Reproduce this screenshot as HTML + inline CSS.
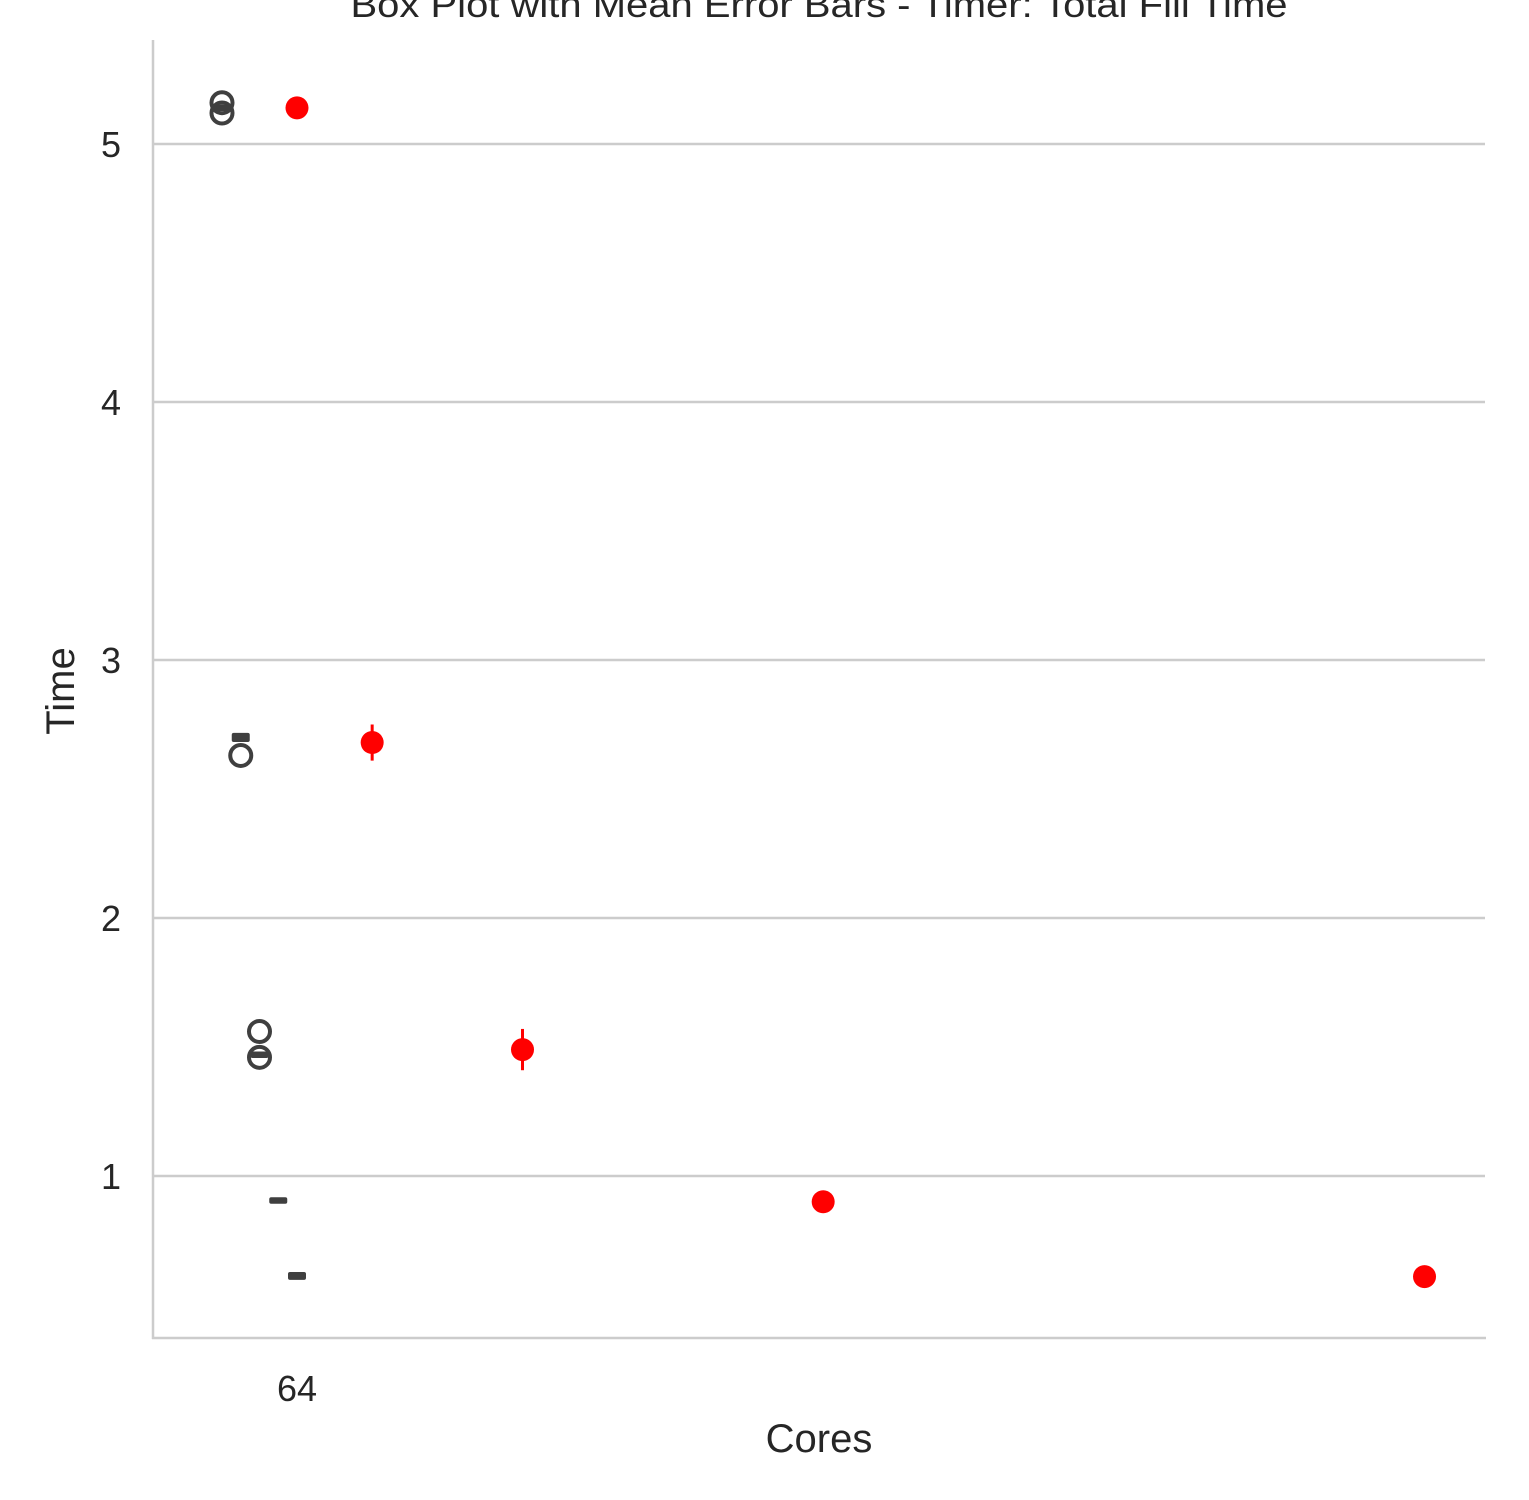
<!DOCTYPE html>
<html><head><meta charset="utf-8"><style>
body{margin:0;background:#fff;}
svg{display:block;font-family:"Liberation Sans",Arial,sans-serif;}
</style></head><body>
<svg id="chart" width="1529" height="1500" viewBox="0 0 1529 1500">
<text x="819" y="17" text-anchor="middle" font-size="36" textLength="937" lengthAdjust="spacingAndGlyphs" fill="#262626">Box Plot with Mean Error Bars - Timer: Total Fill Time</text>
<g id="grid"></g>
<g id="marks"></g>
<line x1="153" y1="40" x2="153" y2="1339" stroke="#cccccc" stroke-width="2.5"/>
<line x1="152" y1="1338" x2="1486" y2="1338" stroke="#cccccc" stroke-width="2.5"/>
<text x="819" y="1452" text-anchor="middle" font-size="40" fill="#262626">Cores</text>
<text transform="translate(74,691) rotate(-90)" text-anchor="middle" font-size="40" fill="#262626">Time</text>
</svg>
<script>
const yTicks=[1,2,3,4,5];
const xTickValues=[64];
const xTickLabels=["64"];
const coreValues=[64,128,256,512,1024];
const meanValues=[5.14,2.68,1.49,0.90,0.61];
const meanErrors=[0.01,0.07,0.08,0.01,0.01];
const boxPositions=[0,16,32,48,64];
const boxQ1=[5.135,2.69,1.465,0.90,0.605];
const boxQ3=[5.145,2.71,1.475,0.91,0.62];
const outliers=[[5.16,5.12],[2.63],[1.56,1.46],[],[]];

const NS="http://www.w3.org/2000/svg";
const xs=v=>297+(v-64)*1.1745;
const ys=v=>1176-(v-1)*258;
const grid=document.getElementById('grid'),marks=document.getElementById('marks');
function mk(tag,attrs,parent){const e=document.createElementNS(NS,tag);for(const k in attrs)e.setAttribute(k,attrs[k]);parent.appendChild(e);return e;}
yTicks.forEach(t=>{
  const l=mk('line',{x1:153,x2:1485,y1:ys(t),y2:ys(t),stroke:'#cccccc','stroke-width':2.5},grid);
  
  
  const tx=mk('text',{x:121,y:ys(t)+13,'text-anchor':'end','font-size':36,fill:'#262626'},grid);
  tx.textContent=t;
  
  
});
xTickValues.forEach((t,i)=>{
  const tx=mk('text',{x:xs(t),y:1401,'text-anchor':'middle','font-size':36,fill:'#262626'},grid);
  tx.textContent=xTickLabels[i];
  
  
});
boxPositions.forEach((p,i)=>{
  const cx=297+(p-64)*1.1719,w=18;
  const y1=ys(boxQ3[i]),y2=ys(boxQ1[i]);
  const b=mk('rect',{x:cx-w/2,y:y1-2,width:w,height:Math.max(y2-y1,1)+4,fill:'#3f3f3f',rx:2},marks);
  
  
  outliers[i].forEach(o=>{
    const c=mk('circle',{cx:cx,cy:ys(o),r:10.5,fill:'none',stroke:'#3f3f3f','stroke-width':4},marks);
    
    
  });
});
coreValues.forEach((v,i)=>{
  const cx=xs(v),cy=ys(meanValues[i]);
  const e=mk('line',{x1:cx,x2:cx,y1:ys(meanValues[i]+meanErrors[i]),y2:ys(meanValues[i]-meanErrors[i]),stroke:'#ff0000','stroke-width':3},marks);
  
  
  const c=mk('circle',{cx:cx,cy:cy,r:11.5,fill:'#ff0000'},marks);
  
  
});
</script>
</body></html>
